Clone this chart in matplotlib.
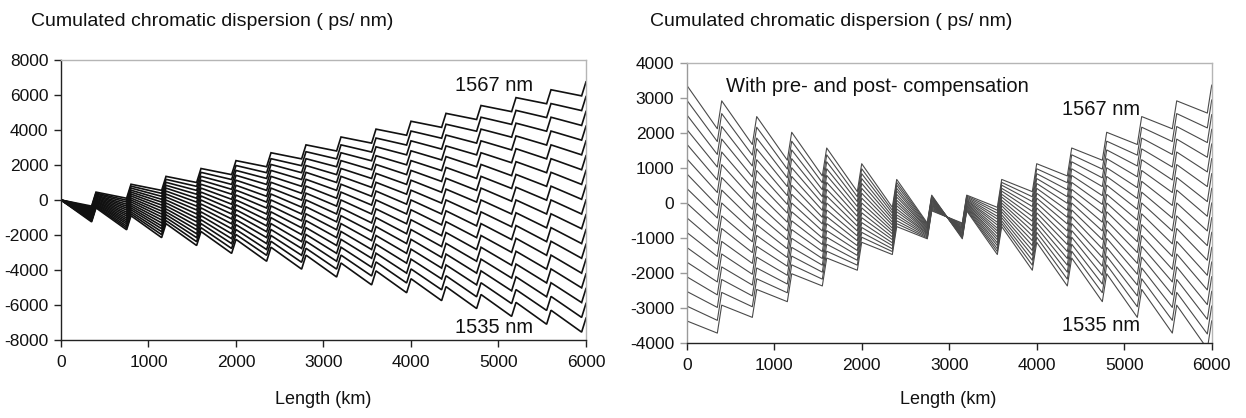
import matplotlib
matplotlib.use("Agg")
import matplotlib.pyplot as plt

plt.rcParams['font.family'] = ['Liberation Sans', 'DejaVu Sans']
plt.rcParams['axes.unicode_minus'] = False

# ---------------- data ----------------
wavelengths_nm = [1535, 1537, 1539, 1541, 1543, 1545, 1547, 1549, 1551,
                  1553, 1555, 1557, 1559, 1561, 1563, 1565, 1567]

# positions along the link (km): end of each span (after DCF) and end of line fibre
span_end_km = [0, 400, 800, 1200, 1600, 2000, 2400, 2800, 3200,
               3600, 4000, 4400, 4800, 5200, 5600, 6000]
fiber_end_km = [350, 750, 1150, 1550, 1950, 2350, 2750, 3150,
                3550, 3950, 4350, 4750, 5150, 5550, 5950]

# Left panel (no pre-compensation): cumulated dispersion (ps/nm) at span ends
left_span_end = [
    [0, -450, -900, -1350, -1800, -2250, -2700, -3150, -3600, -4050, -4500, -4950, -5400, -5850, -6300, -6750],
    [0, -390, -790, -1180, -1580, -1970, -2360, -2760, -3150, -3540, -3940, -4330, -4730, -5120, -5510, -5910],
    [0, -340, -680, -1010, -1350, -1690, -2030, -2360, -2700, -3040, -3380, -3710, -4050, -4390, -4730, -5060],
    [0, -280, -560, -840, -1130, -1410, -1690, -1970, -2250, -2530, -2810, -3090, -3380, -3660, -3940, -4220],
    [0, -230, -450, -680, -900, -1130, -1350, -1580, -1800, -2030, -2250, -2480, -2700, -2930, -3150, -3380],
    [0, -170, -340, -510, -680, -840, -1010, -1180, -1350, -1520, -1690, -1860, -2030, -2190, -2360, -2530],
    [0, -110, -230, -340, -450, -560, -680, -790, -900, -1010, -1130, -1240, -1350, -1460, -1580, -1690],
    [0, -60, -110, -170, -230, -280, -340, -390, -450, -510, -560, -620, -680, -730, -790, -840],
    [0, 0, 0, 0, 0, 0, 0, 0, 0, 0, 0, 0, 0, 0, 0, 0],
    [0, 60, 110, 170, 230, 280, 340, 390, 450, 510, 560, 620, 680, 730, 790, 840],
    [0, 110, 230, 340, 450, 560, 680, 790, 900, 1010, 1130, 1240, 1350, 1460, 1580, 1690],
    [0, 170, 340, 510, 680, 840, 1010, 1180, 1350, 1520, 1690, 1860, 2030, 2190, 2360, 2530],
    [0, 230, 450, 680, 900, 1130, 1350, 1580, 1800, 2030, 2250, 2480, 2700, 2930, 3150, 3380],
    [0, 280, 560, 840, 1130, 1410, 1690, 1970, 2250, 2530, 2810, 3090, 3380, 3660, 3940, 4220],
    [0, 340, 680, 1010, 1350, 1690, 2030, 2360, 2700, 3040, 3380, 3710, 4050, 4390, 4730, 5060],
    [0, 390, 790, 1180, 1580, 1970, 2360, 2760, 3150, 3540, 3940, 4330, 4730, 5120, 5510, 5910],
    [0, 450, 900, 1350, 1800, 2250, 2700, 3150, 3600, 4050, 4500, 4950, 5400, 5850, 6300, 6750],
]
# Left panel: cumulated dispersion at the end of the line fibre (before DCF)
left_fiber_end = [
    [-1250, -1700, -2150, -2600, -3050, -3500, -3950, -4400, -4850, -5300, -5750, -6200, -6650, -7100, -7550],
    [-1190, -1590, -1980, -2380, -2770, -3160, -3560, -3950, -4340, -4740, -5130, -5530, -5920, -6310, -6710],
    [-1140, -1480, -1810, -2150, -2490, -2830, -3160, -3500, -3840, -4180, -4510, -4850, -5190, -5530, -5860],
    [-1080, -1360, -1640, -1930, -2210, -2490, -2770, -3050, -3330, -3610, -3890, -4180, -4460, -4740, -5020],
    [-1030, -1250, -1480, -1700, -1930, -2150, -2380, -2600, -2830, -3050, -3280, -3500, -3730, -3950, -4180],
    [-970, -1140, -1310, -1480, -1640, -1810, -1980, -2150, -2320, -2490, -2660, -2830, -2990, -3160, -3330],
    [-910, -1030, -1140, -1250, -1360, -1480, -1590, -1700, -1810, -1930, -2040, -2150, -2260, -2380, -2490],
    [-860, -910, -970, -1030, -1080, -1140, -1190, -1250, -1310, -1360, -1420, -1480, -1530, -1590, -1640],
    [-800, -800, -800, -800, -800, -800, -800, -800, -800, -800, -800, -800, -800, -800, -800],
    [-740, -690, -630, -570, -520, -460, -410, -350, -290, -240, -180, -120, -70, -10, 40],
    [-690, -570, -460, -350, -240, -120, -10, 100, 210, 330, 440, 550, 660, 780, 890],
    [-630, -460, -290, -120, 40, 210, 380, 550, 720, 890, 1060, 1230, 1390, 1560, 1730],
    [-570, -350, -120, 100, 330, 550, 780, 1000, 1230, 1450, 1680, 1900, 2130, 2350, 2580],
    [-520, -240, 40, 330, 610, 890, 1170, 1450, 1730, 2010, 2290, 2580, 2860, 3140, 3420],
    [-460, -120, 210, 550, 890, 1230, 1560, 1900, 2240, 2580, 2910, 3250, 3590, 3930, 4260],
    [-410, -10, 380, 780, 1170, 1560, 1960, 2350, 2740, 3140, 3530, 3930, 4320, 4710, 5110],
    [-350, 100, 550, 1000, 1450, 1900, 2350, 2800, 3250, 3700, 4150, 4600, 5050, 5500, 5950],
]

# Right panel (with pre- and post- compensation): values at span ends
right_span_end = [
    [3375, 2925, 2475, 2025, 1575, 1125, 675, 225, -225, -675, -1125, -1575, -2025, -2475, -2925, -3375],
    [2950, 2560, 2170, 1770, 1380, 980, 590, 200, -200, -590, -980, -1380, -1770, -2170, -2560, -2950],
    [2530, 2190, 1860, 1520, 1180, 840, 510, 170, -170, -510, -840, -1180, -1520, -1860, -2190, -2530],
    [2110, 1830, 1550, 1270, 980, 700, 420, 140, -140, -420, -700, -980, -1270, -1550, -1830, -2110],
    [1690, 1460, 1240, 1010, 790, 560, 340, 110, -110, -340, -560, -790, -1010, -1240, -1460, -1690],
    [1270, 1100, 930, 760, 590, 420, 250, 80, -80, -250, -420, -590, -760, -930, -1100, -1270],
    [840, 730, 620, 510, 390, 280, 170, 60, -60, -170, -280, -390, -510, -620, -730, -840],
    [420, 370, 310, 250, 200, 140, 80, 30, -30, -80, -140, -200, -250, -310, -370, -420],
    [0, 0, 0, 0, 0, 0, 0, 0, 0, 0, 0, 0, 0, 0, 0, 0],
    [-420, -370, -310, -250, -200, -140, -80, -30, 30, 80, 140, 200, 250, 310, 370, 420],
    [-840, -730, -620, -510, -390, -280, -170, -60, 60, 170, 280, 390, 510, 620, 730, 840],
    [-1270, -1100, -930, -760, -590, -420, -250, -80, 80, 250, 420, 590, 760, 930, 1100, 1270],
    [-1690, -1460, -1240, -1010, -790, -560, -340, -110, 110, 340, 560, 790, 1010, 1240, 1460, 1690],
    [-2110, -1830, -1550, -1270, -980, -700, -420, -140, 140, 420, 700, 980, 1270, 1550, 1830, 2110],
    [-2530, -2190, -1860, -1520, -1180, -840, -510, -170, 170, 510, 840, 1180, 1520, 1860, 2190, 2530],
    [-2950, -2560, -2170, -1770, -1380, -980, -590, -200, 200, 590, 980, 1380, 1770, 2170, 2560, 2950],
    [-3375, -2925, -2475, -2025, -1575, -1125, -675, -225, 225, 675, 1125, 1575, 2025, 2475, 2925, 3375],
]
# Right panel: values at the end of the line fibre (before DCF)
right_fiber_end = [
    [2125, 1675, 1225, 775, 325, -125, -575, -1025, -1475, -1925, -2375, -2825, -3275, -3725, -4175],
    [1760, 1370, 970, 580, 180, -210, -600, -1000, -1390, -1780, -2180, -2570, -2970, -3360, -3750],
    [1390, 1060, 720, 380, 40, -290, -630, -970, -1310, -1640, -1980, -2320, -2660, -2990, -3330],
    [1030, 750, 470, 180, -100, -380, -660, -940, -1220, -1500, -1780, -2070, -2350, -2630, -2910],
    [660, 440, 210, -10, -240, -460, -690, -910, -1140, -1360, -1590, -1810, -2040, -2260, -2490],
    [300, 130, -40, -210, -380, -550, -720, -880, -1050, -1220, -1390, -1560, -1730, -1900, -2070],
    [-70, -180, -290, -410, -520, -630, -740, -860, -970, -1080, -1190, -1310, -1420, -1530, -1640],
    [-430, -490, -550, -600, -660, -720, -770, -830, -880, -940, -1000, -1050, -1110, -1170, -1220],
    [-800, -800, -800, -800, -800, -800, -800, -800, -800, -800, -800, -800, -800, -800, -800],
    [-1170, -1110, -1050, -1000, -940, -880, -830, -770, -720, -660, -600, -550, -490, -430, -380],
    [-1530, -1420, -1310, -1190, -1080, -970, -860, -740, -630, -520, -410, -290, -180, -70, 40],
    [-1900, -1730, -1560, -1390, -1220, -1050, -880, -720, -550, -380, -210, -40, 130, 300, 470],
    [-2260, -2040, -1810, -1590, -1360, -1140, -910, -690, -460, -240, -10, 210, 440, 660, 890],
    [-2630, -2350, -2070, -1780, -1500, -1220, -940, -660, -380, -100, 180, 470, 750, 1030, 1310],
    [-2990, -2660, -2320, -1980, -1640, -1310, -970, -630, -290, 40, 380, 720, 1060, 1390, 1730],
    [-3360, -2970, -2570, -2180, -1780, -1390, -1000, -600, -210, 180, 580, 970, 1370, 1760, 2150],
    [-3725, -3275, -2825, -2375, -1925, -1475, -1025, -575, -125, 325, 775, 1225, 1675, 2125, 2575],
]

x_ticks = [0, 1000, 2000, 3000, 4000, 5000, 6000]
left_y_ticks = [-8000, -6000, -4000, -2000, 0, 2000, 4000, 6000, 8000]
right_y_ticks = [-4000, -3000, -2000, -1000, 0, 1000, 2000, 3000, 4000]

title_text = "Cumulated chromatic dispersion ( ps/ nm)"
xlabel_text = "Length (km)"


def channel_path(span_vals, fiber_vals):
    xs = [span_end_km[0]]
    ys = [span_vals[0]]
    for k in range(len(fiber_end_km)):
        xs += [fiber_end_km[k], span_end_km[k + 1]]
        ys += [fiber_vals[k], span_vals[k + 1]]
    return xs, ys


W, H = 1246, 418
fig = plt.figure(figsize=(W / 100, H / 100), dpi=100)
fig.patch.set_facecolor('white')

ax1 = fig.add_axes([61 / W, 1 - 340 / H, 525 / W, 280 / H])
ax2 = fig.add_axes([686.7 / W, 1 - 342.7 / H, 525 / W, 279.4 / H])

for i in range(len(wavelengths_nm)):
    xs, ys = channel_path(left_span_end[i], left_fiber_end[i])
    ax1.plot(xs, ys, color='#111111', lw=1.2, solid_joinstyle='miter')
    xs, ys = channel_path(right_span_end[i], right_fiber_end[i])
    ax2.plot(xs, ys, color='#4a4a4a', lw=0.8)

ax1.set_xlim(0, 6000)
ax1.set_ylim(-8000, 8000)
ax1.set_xticks(x_ticks)
ax1.set_yticks(left_y_ticks)
ax2.set_xlim(0, 6000)
ax2.set_ylim(-4000, 4000)
ax2.set_xticks(x_ticks)
ax2.set_yticks(right_y_ticks)

for ax, lcol in ((ax1, '#222222'), (ax2, '#9a9a9a')):
    ax.spines['left'].set_color(lcol)
    ax.spines['bottom'].set_color('#222222')
    ax.spines['top'].set_color('#b5b5b5')
    ax.spines['right'].set_color('#b5b5b5')
    for s in ax.spines.values():
        s.set_linewidth(1.0)
    ax.tick_params(axis='x', direction='out', length=5, width=1.0,
                   color='#222222', labelsize=12.5, pad=6, labelcolor='#111111')
    ax.tick_params(axis='y', direction='out', length=5, width=1.0,
                   color=lcol, labelsize=12.5, pad=4, labelcolor='#111111')

# titles and axis labels
fig.text(31 / W, 1 - 22 / H, title_text, fontsize=14, ha='left', va='center', color='#111111')
fig.text(650 / W, 1 - 22 / H, title_text, fontsize=14, ha='left', va='center', color='#111111')
fig.text(323 / W, 1 - 400 / H, xlabel_text, fontsize=13, ha='center', va='center', color='#111111')
fig.text(948 / W, 1 - 400 / H, xlabel_text, fontsize=13, ha='center', va='center', color='#111111')

# annotations
ax1.text(4505, 6570, f"{wavelengths_nm[-1]} nm", fontsize=14.5, ha='left', va='center', color='#111111')
ax1.text(4505, -7310, f"{wavelengths_nm[0]} nm", fontsize=14.5, ha='left', va='center', color='#111111')
ax2.text(449, 3330, "With pre- and post- compensation", fontsize=14.5, ha='left', va='center', color='#111111')
ax2.text(4287, 2665, f"{wavelengths_nm[-1]} nm", fontsize=14.5, ha='left', va='center', color='#111111')
ax2.text(4287, -3496, f"{wavelengths_nm[0]} nm", fontsize=14.5, ha='left', va='center', color='#111111')

fig.savefig('out.png', dpi=100, facecolor='white')
